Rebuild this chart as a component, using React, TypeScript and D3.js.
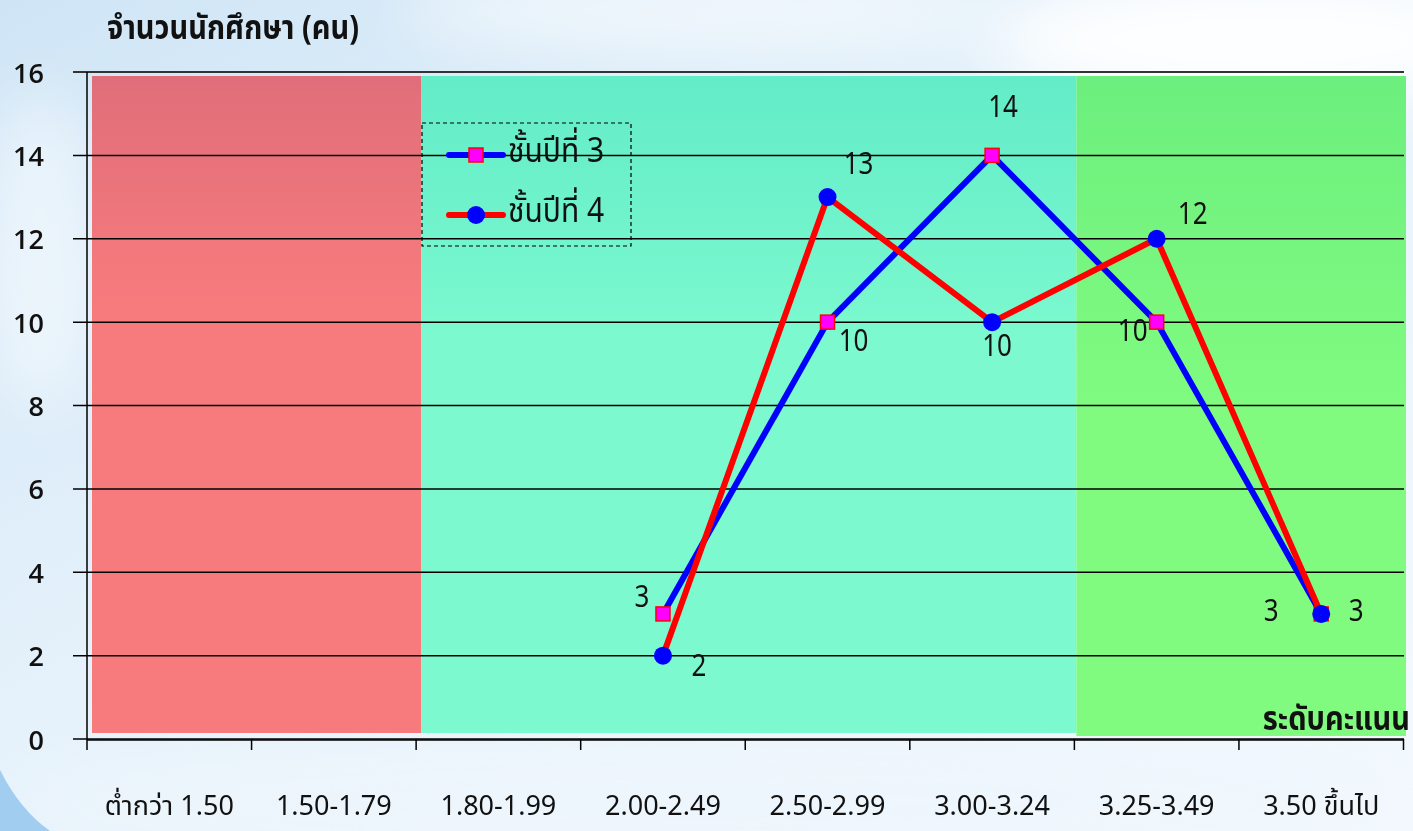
import React from "react";
import * as d3 from "d3";

const categories = [
  "ต่ำกว่า 1.50",
  "1.50-1.79",
  "1.80-1.99",
  "2.00-2.49",
  "2.50-2.99",
  "3.00-3.24",
  "3.25-3.49",
  "3.50 ขึ้นไป",
];
const seriesNames = ["ชั้นปีที่ 3", "ชั้นปีที่ 4"];
const year3: (number | null)[] = [null, null, null, 3, 10, 14, 10, 3];
const year4: (number | null)[] = [null, null, null, 2, 13, 10, 12, 3];
const yTicks = [0, 2, 4, 6, 8, 10, 12, 14, 16];
const yTitle = "จำนวนนักศึกษา (คน)";
const xTitle = "ระดับคะแนน";
// zones: [firstCategoryIndex, lastCategoryIndexExclusive]
const zones = [
  { from: 0, to: 2, fill: "#f77b7d", top: "#e06e7a" },
  { from: 2, to: 6, fill: "#7cf9cf", top: "#62ecc7" },
  { from: 6, to: 8, fill: "#80fb80", top: "#6cef7e" },
];

// label placement (dx, dy) per series per point
const labelPos3: ([number, number] | null)[] = [null, null, null, [-21, -16], [26, 20], [11, -48], [-24, 10], [-50, -2]];
const labelPos4: ([number, number] | null)[] = [null, null, null, [36, 11], [31, -32], [5, 25], [36, -24], [35, -2]];

const W = 1413;
const H = 831;
const THAI = "'Noto Sans Thai', 'Noto Sans Thai Looped', Tahoma, 'DejaVu Sans', sans-serif";

function StretchText(props: {
  x: number;
  y: number;
  sy: number;
  anchor?: string;
  size: number;
  weight?: string;
  family?: string;
  children: React.ReactNode;
}) {
  const { x, y, sy, anchor = "middle", size, weight = "normal", family = THAI, children } = props;
  return (
    <g transform={`translate(${x},${y}) scale(1,${sy})`}>
      <text
        x={0}
        y={0}
        textAnchor={anchor as any}
        dominantBaseline="central"
        fontFamily={family}
        fontWeight={weight}
        fontSize={size}
        fill="#111"
      >
        {children}
      </text>
    </g>
  );
}

export default function App() {
  const x = d3.scaleBand<string>().domain(categories).range([87, 1403.5]).padding(0);
  const y = d3.scaleLinear().domain([0, 16]).range([739, 72]);
  const cx = (i: number) => (x(categories[i]) as number) + x.bandwidth() / 2;

  const line = d3
    .line<[number, number | null]>()
    .defined((d) => d[1] !== null)
    .x((d) => cx(d[0]))
    .y((d) => y(d[1] as number));

  const pts3 = year3.map((v, i) => [i, v] as [number, number | null]);
  const pts4 = year4.map((v, i) => [i, v] as [number, number | null]);

  const bw = x.bandwidth();
  const zoneEdge = (i: number) =>
    i >= categories.length ? 1406 : (x(categories[i]) as number) + (i === 0 ? 5 : i === 2 ? 5 : 2);

  return (
    <div style={{ position: "fixed", left: 0, top: 0, width: W, height: H }}>
      <svg width={W} height={H} style={{ display: "block" }}>
        <defs>
          <linearGradient id="sky" x1="0" y1="0" x2="1" y2="1">
            <stop offset="0" stopColor="#cfe5f6" />
            <stop offset="0.45" stopColor="#e6f2fb" />
            <stop offset="1" stopColor="#f4f9fe" />
          </linearGradient>
          <filter id="blur" x="-50%" y="-50%" width="200%" height="200%">
            <feGaussianBlur stdDeviation="30" />
          </filter>
          <linearGradient id="zr" x1="0" y1="0" x2="0" y2="1">
            <stop offset="0" stopColor={zones[0].top} />
            <stop offset="0.35" stopColor={zones[0].fill} />
            <stop offset="1" stopColor={zones[0].fill} />
          </linearGradient>
          <linearGradient id="zt" x1="0" y1="0" x2="0" y2="1">
            <stop offset="0" stopColor={zones[1].top} />
            <stop offset="0.4" stopColor={zones[1].fill} />
            <stop offset="1" stopColor={zones[1].fill} />
          </linearGradient>
          <linearGradient id="zg" x1="0" y1="0" x2="0" y2="1">
            <stop offset="0" stopColor={zones[2].top} />
            <stop offset="0.5" stopColor={zones[2].fill} />
            <stop offset="1" stopColor={zones[2].fill} />
          </linearGradient>
        </defs>
        {/* background */}
        <rect x={0} y={0} width={W} height={H} fill="url(#sky)" />
        <g filter="url(#blur)">
          <ellipse cx={1250} cy={40} rx={260} ry={70} fill="#ffffff" opacity={0.9} />
          <ellipse cx={700} cy={10} rx={300} ry={40} fill="#ffffff" opacity={0.6} />
          <ellipse cx={40} cy={250} rx={60} ry={160} fill="#ffffff" opacity={0.5} />
          <ellipse cx={700} cy={800} rx={700} ry={60} fill="#eef6fd" opacity={0.8} />
        </g>
        <path d="M0,770 Q20,810 50,831 L0,831 Z" fill="#8ec3ee" opacity={0.8} />

        {/* zones */}
        {zones.map((z, k) => {
          const x0 = zoneEdge(z.from);
          const x1 = zoneEdge(z.to);
          const bottom = k === 2 ? 736 : 733;
          return (
            <rect
              key={k}
              x={x0}
              y={76}
              width={x1 - x0}
              height={bottom - 76}
              fill={`url(#${["zr", "zt", "zg"][k]})`}
            />
          );
        })}

        {/* gridlines */}
        {yTicks.map((t) => (
          <g key={t}>
            <line x1={73} x2={1404} y1={y(t)} y2={y(t)} stroke={t === 16 ? "#333" : "#000"} strokeWidth={t === 16 ? 2 : 1.5} />
            <text
              x={44}
              y={y(t)}
              textAnchor="end"
              dominantBaseline="central"
              fontFamily="'Open Sans', sans-serif"
              fontWeight={600}
              fontSize={27}
              fill="#111"
            >
              {t}
            </text>
          </g>
        ))}
        {/* axes */}
        <line x1={87} x2={87} y1={72} y2={750} stroke="#000" strokeWidth={1.5} />
        <line x1={87} x2={1404} y1={y(0) + 1} y2={y(0) + 1} stroke="#000" strokeWidth={1.5} />
        {categories.map((c, i) => (
          <line key={"t" + i} x1={(x(c) as number) + bw} x2={(x(c) as number) + bw} y1={y(0)} y2={y(0) + 11} stroke="#000" strokeWidth={1.5} />
        ))}
        {categories.map((c, i) => (
          <text
            key={"c" + i}
            x={cx(i)}
            y={815}
            textAnchor="middle"
            fontFamily={THAI}
            fontSize={27}
            fill="#111"
          >
            {c}
          </text>
        ))}

        <StretchText x={107} y={29} sy={1.15} anchor="start" size={29} weight="bold">
          {yTitle}
        </StretchText>
        <StretchText x={1410} y={720} sy={1.15} anchor="end" size={29} weight="bold">
          {xTitle}
        </StretchText>

        {/* series year 3 */}
        <path d={line(pts3) as string} fill="none" stroke="#0000ff" strokeWidth={6} strokeLinejoin="round" />
        {pts3.filter((d) => d[1] !== null).map((d) => (
          <rect key={"s3" + d[0]} x={cx(d[0]) - 7} y={y(d[1] as number) - 7} width={14} height={14} fill="#ff00ff" stroke="#ff0000" strokeWidth={1.5} />
        ))}
        {/* series year 4 */}
        <path d={line(pts4) as string} fill="none" stroke="#ff0000" strokeWidth={6} strokeLinejoin="round" />
        {pts4.filter((d) => d[1] !== null).map((d) => (
          <circle key={"s4" + d[0]} cx={cx(d[0])} cy={y(d[1] as number)} r={9} fill="#0000ff" />
        ))}

        {/* data labels */}
        {pts3.map((d) =>
          d[1] === null || !labelPos3[d[0]] ? null : (
            <StretchText
              key={"l3" + d[0]}
              x={cx(d[0]) + labelPos3[d[0]]![0]}
              y={y(d[1] as number) + labelPos3[d[0]]![1]}
              sy={1.2}
              size={26}
            >
              {d[1]}
            </StretchText>
          )
        )}
        {pts4.map((d) =>
          d[1] === null || !labelPos4[d[0]] ? null : (
            <StretchText
              key={"l4" + d[0]}
              x={cx(d[0]) + labelPos4[d[0]]![0]}
              y={y(d[1] as number) + labelPos4[d[0]]![1]}
              sy={1.2}
              size={26}
            >
              {d[1]}
            </StretchText>
          )
        )}

        {/* legend */}
        <rect x={422} y={123} width={209} height={123} fill="none" stroke="#000" strokeWidth={1.2} strokeDasharray="4,3" />
        <line x1={449} x2={503} y1={155} y2={155} stroke="#0000ff" strokeWidth={6} strokeLinecap="round" />
        <rect x={476 - 7} y={155 - 7} width={14} height={14} fill="#ff00ff" stroke="#ff0000" strokeWidth={1.5} />
        <StretchText x={508} y={152} sy={1.15} anchor="start" size={30}>
          {seriesNames[0]}
        </StretchText>
        <line x1={449} x2={503} y1={215} y2={215} stroke="#ff0000" strokeWidth={6} strokeLinecap="round" />
        <circle cx={476} cy={215} r={9} fill="#0000ff" />
        <StretchText x={508} y={212} sy={1.15} anchor="start" size={30}>
          {seriesNames[1]}
        </StretchText>
      </svg>
    </div>
  );
}
